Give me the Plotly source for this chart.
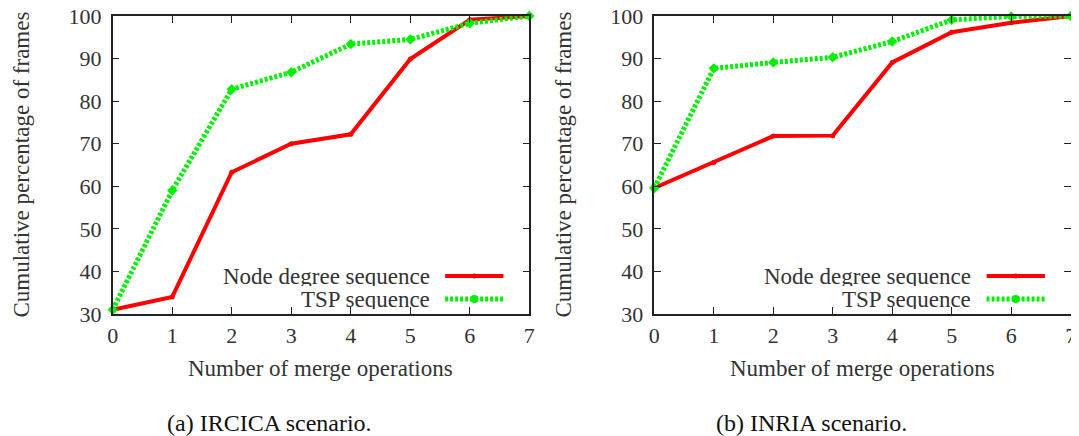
import plotly.graph_objects as go
from plotly.subplots import make_subplots

# merge operations on the x axis
merges = [0, 1, 2, 3, 4, 5, 6, 7]

# (a) IRCICA scenario
ircica_node = [31.0, 34.0, 63.3, 70.0, 72.2, 89.9, 99.1, 100.0]
ircica_tsp = [31.0, 59.0, 82.8, 86.8, 93.4, 94.5, 98.3, 100.0]

# (b) INRIA scenario
inria_node = [59.6, 65.6, 71.8, 71.9, 89.1, 96.2, 98.4, 100.0]
inria_tsp = [59.6, 87.7, 89.1, 90.3, 94.0, 99.1, 99.9, 100.0]

series_names = ['Node degree sequence', 'TSP sequence']
captions = ['(a) IRCICA scenario.', '(b) INRIA scenario.']
y_ticks = [30, 40, 50, 60, 70, 80, 90, 100]

SERIF = 'Liberation Serif'
TXT = '#333'
RED = '#ff0000'
GREEN = '#00f000'

# the page body has an 8px margin, so the figure is a bit smaller than the window
OFF = 8
W, H = 1079 - OFF, 436 - OFF


def px(x):
    return (x - OFF) / W


def py(y):
    return 1 - (y - OFF) / H


fig = make_subplots(rows=1, cols=2)

panels = [(ircica_node, ircica_tsp), (inria_node, inria_tsp)]
for col, (node, tsp) in enumerate(panels, start=1):
    fig.add_trace(go.Scatter(
        x=merges, y=node, mode='lines+markers', name=series_names[0],
        line=dict(color=RED, width=4),
        marker=dict(symbol='circle', size=5, color=RED),
        showlegend=False, cliponaxis=False
    ), row=1, col=col)
    fig.add_trace(go.Scatter(
        x=merges, y=tsp, mode='lines+markers', name=series_names[1],
        line=dict(color=GREEN, width=5, dash='3px,2px'),
        marker=dict(symbol='diamond', size=8, color=GREEN),
        showlegend=False, cliponaxis=False
    ), row=1, col=col)

axis_style = dict(
    showline=True, linecolor='#222', linewidth=1.5, mirror='ticks',
    ticks='inside', ticklen=7, tickwidth=1, tickcolor='#222',
    showgrid=False, zeroline=False, automargin=False,
    ticklabeloverflow='allow',
    tickfont=dict(family=SERIF, size=22, color=TXT),
)

x_domains = [[px(112.7), px(529.3)], [px(654.3), px(1070.7)]]
y_domain = [py(314), py(16)]

for i in range(2):
    fig.update_xaxes(range=[0, 7], tickvals=merges, domain=x_domains[i],
                     ticklabelstandoff=1, row=1, col=i + 1, **axis_style)
    fig.update_yaxes(range=[30, 100], tickvals=y_ticks, domain=y_domain,
                     ticklabelstandoff=5, row=1, col=i + 1, **axis_style)

# axis titles, captions and a gnuplot-style key (text left, sample right)
y_title_x = [px(20.5), px(562.5)]
caption_x = [px(269), px(811)]
for i in range(2):
    xr = 'x domain' if i == 0 else 'x2 domain'
    yr = 'y domain' if i == 0 else 'y2 domain'
    mid = sum(x_domains[i]) / 2

    fig.add_annotation(
        x=mid, y=py(368), xref='paper', yref='paper',
        text='Number of merge operations', showarrow=False,
        xanchor='center', yanchor='middle',
        font=dict(family=SERIF, size=23, color=TXT)
    )
    fig.add_annotation(
        x=y_title_x[i], y=sum(y_domain) / 2, xref='paper', yref='paper',
        text='Cumulative percentage of frames', showarrow=False, textangle=-90,
        xanchor='center', yanchor='middle',
        font=dict(family=SERIF, size=23, color=TXT)
    )

    rows = [(0.1275, RED, 4, 'solid', 2.5), (0.0503, GREEN, 5, '3px,2px', 4)]
    for k, (yy, c, w, d, r) in enumerate(rows):
        fig.add_annotation(
            x=0.764, y=yy, xref=xr, yref=yr, text=series_names[k],
            showarrow=False, xanchor='right', yanchor='middle',
            borderpad=0, height=20,
            font=dict(family=SERIF, size=23, color=TXT)
        )
        fig.add_shape(
            type='line', x0=0.798, x1=0.938, y0=yy, y1=yy, xref=xr, yref=yr,
            line=dict(color=c, width=w, dash=d)
        )
        # point symbol in the middle of the key sample
        fig.add_shape(
            type='circle', xref=xr, yref=yr,
            x0=0.868 - r / 416.5, x1=0.868 + r / 416.5,
            y0=yy - r / 298, y1=yy + r / 298,
            fillcolor=c, line=dict(width=0)
        )

    fig.add_annotation(
        x=caption_x[i], y=py(423), xref='paper', yref='paper',
        text=captions[i], showarrow=False, xanchor='center', yanchor='middle',
        font=dict(family=SERIF, size=24, color='#111')
    )

fig.update_layout(
    width=W, height=H,
    margin=dict(l=0, r=0, t=0, b=0),
    plot_bgcolor='white', paper_bgcolor='white',
    showlegend=False,
)

fig.write_html("out.html")
